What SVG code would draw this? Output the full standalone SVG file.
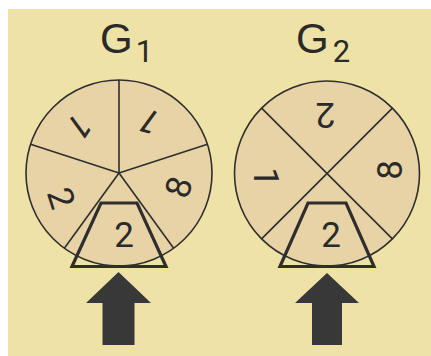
<svg xmlns="http://www.w3.org/2000/svg" width="431" height="356" viewBox="0 0 431 356">
<style>
.bg{fill:#efe2a6}
.disc{fill:#e7d3a6;stroke:#2e2e2e;stroke-width:1.6}
.spoke{stroke:#2e2e2e;stroke-width:1.6;fill:none}
.trap{fill:none;stroke:#2e2e2e;stroke-width:3.2;stroke-linejoin:miter}
.num{font-family:Roboto,"Liberation Sans",Arial,sans-serif;font-size:35px;fill:#2a2a2a;text-anchor:middle}
.title{font-family:"Liberation Sans",Arial,sans-serif;font-size:42px;fill:#2a2a2a}
.sub{font-family:Roboto,"Liberation Sans",Arial,sans-serif;font-size:31px}
.arrow{fill:#383838}
</style>
<rect x="0" y="0" width="431" height="356" fill="#ffffff"/>
<rect class="bg" x="8" y="9" width="423" height="347"/>

<g id="title-g1"><text class="title" x="100" y="53">G<tspan class="sub" dx="3" dy="9">1</tspan></text></g>
<g id="title-g2"><text class="title" x="296" y="53">G<tspan class="sub" dx="4" dy="9">2</tspan></text></g>

<g id="wheel-g1">
<circle class="disc" cx="119" cy="173" r="93"/>
<g class="spoke">
<line x1="119" y1="173" x2="119" y2="80"/>
<line x1="119" y1="173" x2="207.45" y2="144.26"/>
<line x1="119" y1="173" x2="30.55" y2="144.26"/>
<line x1="119" y1="173" x2="173.66" y2="248.24"/>
<line x1="119" y1="173" x2="64.34" y2="248.24"/>
</g>
<g transform="translate(79.5,127) rotate(144)"><text class="num" y="12.5">1</text></g>
<g transform="translate(149,122) rotate(216)"><text class="num" y="12.5">1</text></g>
<g transform="translate(61.5,198) rotate(72)"><text class="num" y="12.5">2</text></g>
<g transform="translate(178.5,187) rotate(-72)"><text class="num" y="12.5">8</text></g>
</g>
<g id="window-g1">
<polygon class="trap" points="101,203 137,203 166,266.5 72,266.5"/>
<text class="num" x="124" y="247">2</text>
</g>

<g id="wheel-g2">
<circle class="disc" cx="327" cy="173.5" r="92.5"/>
<g class="spoke">
<line x1="261.6" y1="108.1" x2="392.4" y2="238.9"/>
<line x1="392.4" y1="108.1" x2="261.6" y2="238.9"/>
</g>
<g transform="translate(325.5,115) rotate(180)"><text class="num" y="12.5">2</text></g>
<g transform="translate(389,170) rotate(-90)"><text class="num" y="12.5">8</text></g>
<g transform="translate(266,177) rotate(90)"><text class="num" y="12.5">1</text></g>
</g>
<g id="window-g2">
<polygon class="trap" points="308,203 346,203 374,266.5 280,266.5"/>
<text class="num" x="331" y="247">2</text>
</g>

<g id="connectors">
<polygon id="arrow-g1" class="arrow" points="118.5,272 151,303 134.5,303 134.5,345 102.5,345 102.5,303 86,303"/>
<polygon id="arrow-g2" class="arrow" points="327,273 359,303 342,303 342,345 312,345 312,303 295,303"/>
</g>
</svg>
